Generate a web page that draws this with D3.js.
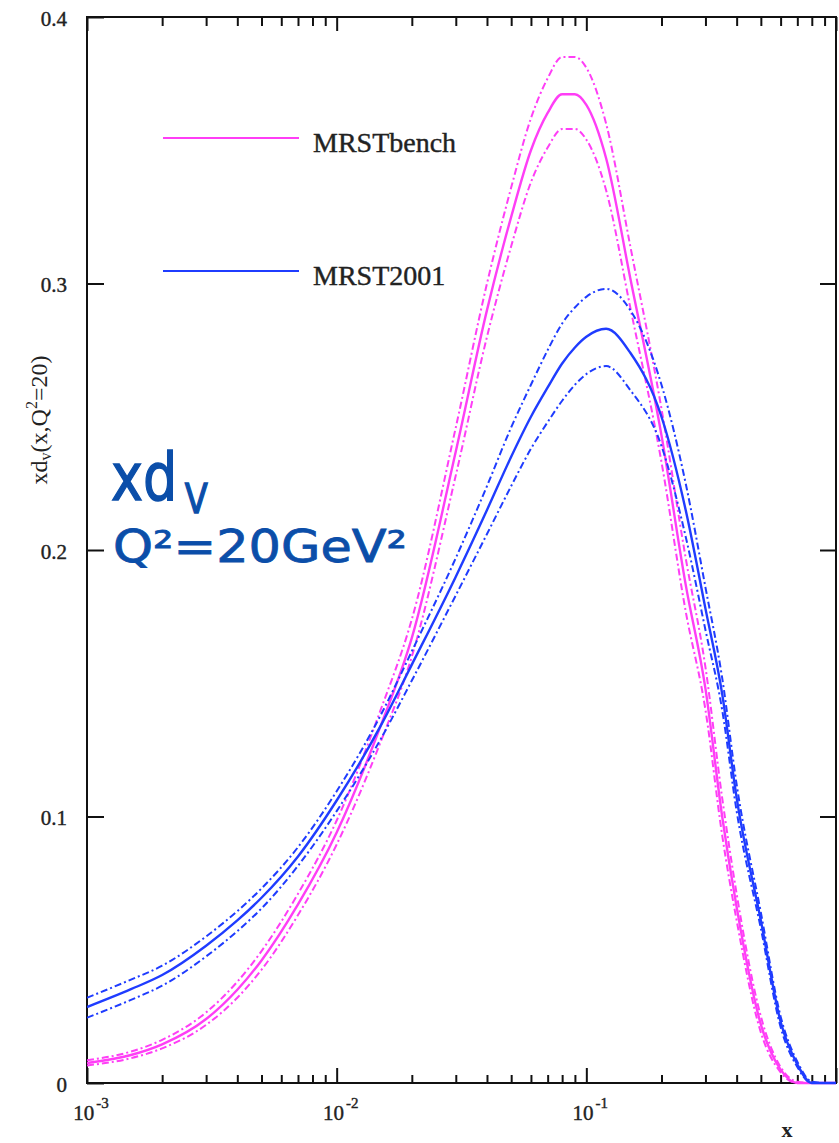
<!DOCTYPE html>
<html>
<head>
<meta charset="utf-8">
<script src="https://cdn.jsdelivr.net/npm/d3@7/dist/d3.min.js"></script>
<style>
  html, body { margin: 0; padding: 0; background: #fff; }
  svg { display: block; }
</style>
</head>
<body>
<svg id="chart" width="839" height="1143"></svg>
<script>
// ---- data ----
const xValues = [0.001, 0.0015, 0.002, 0.003, 0.004, 0.005, 0.007, 0.01, 0.015, 0.02,
  0.03, 0.04, 0.05, 0.06, 0.07, 0.08, 0.09, 0.1, 0.12, 0.15,
  0.2, 0.25, 0.3, 0.35, 0.4, 0.5, 0.6, 0.7, 0.8, 0.9, 1.0];

const benchCentral = [0.0075, 0.0105, 0.0145, 0.024, 0.035, 0.046, 0.067, 0.094, 0.134, 0.167,
  0.237, 0.290, 0.325, 0.350, 0.364, 0.371, 0.371, 0.367, 0.347, 0.302,
  0.243, 0.187, 0.148, 0.100, 0.066, 0.022, 0.005, 0.0, 0, 0, 0];
const benchUpper = [0.0085, 0.0118, 0.0162, 0.0265, 0.038, 0.0495, 0.071, 0.0985, 0.140, 0.174,
  0.246, 0.300, 0.336, 0.362, 0.377, 0.385, 0.385, 0.381, 0.360, 0.314,
  0.253, 0.197, 0.156, 0.107, 0.071, 0.025, 0.006, 0.0005, 0, 0, 0];
const benchLower = [0.0066, 0.0093, 0.013, 0.0218, 0.032, 0.0425, 0.063, 0.0895, 0.128, 0.160,
  0.228, 0.280, 0.314, 0.338, 0.351, 0.358, 0.358, 0.354, 0.335, 0.291,
  0.233, 0.177, 0.140, 0.093, 0.061, 0.019, 0.004, 0, 0, 0, 0];

const mrstCentral = [0.0285, 0.0352, 0.0405, 0.0515, 0.061, 0.0695, 0.085, 0.106, 0.134, 0.157,
  0.190, 0.215, 0.235, 0.250, 0.261, 0.270, 0.276, 0.280, 0.283, 0.274,
  0.250, 0.215, 0.178, 0.146, 0.107, 0.061, 0.023, 0.007, 0, 0, 0];
const mrstUpper = [0.032, 0.0388, 0.044, 0.055, 0.0645, 0.073, 0.0885, 0.1095, 0.138, 0.162,
  0.197, 0.224, 0.246, 0.262, 0.275, 0.285, 0.291, 0.295, 0.298, 0.290,
  0.262, 0.225, 0.186, 0.152, 0.112, 0.064, 0.025, 0.008, 0.0005, 0, 0];
const mrstLower = [0.0245, 0.0312, 0.0365, 0.0475, 0.057, 0.0655, 0.0815, 0.102, 0.129, 0.151,
  0.183, 0.206, 0.224, 0.238, 0.248, 0.256, 0.262, 0.266, 0.269, 0.260,
  0.239, 0.205, 0.170, 0.140, 0.102, 0.058, 0.021, 0.006, 0, 0, 0];

const seriesNames = ["MRSTbench", "MRST2001"];
const yTickValues = [0, 0.1, 0.2, 0.3, 0.4];
const xDecades = [0.001, 0.01, 0.1];
const xDecadeExponents = ["-3", "-2", "-1"];
const xAxisTitle = "x";

(function () {
const pL = 87, pR = 836, pT = 17, pB = 1083;
const MAG = "#ff3ef6", BLU = "#1f3cff";
const serif = "'Liberation Serif', 'Times New Roman', serif";

const svg = d3.select("#chart");
const x = d3.scaleLog().domain([1e-3, 1]).range([pL, pR]);
const y = d3.scaleLinear().domain([0, 0.4]).range([pB, pT]);

const minorX = [];
[0.001, 0.01, 0.1].forEach(d => { for (let k = 2; k <= 9; k++) minorX.push(d * k); });
const majorX = [0.001, 0.01, 0.1, 1];

function styleAxis(g) {
  g.select(".domain").remove();
  g.selectAll(".tick line").attr("stroke", "#111").attr("stroke-width", 2);
}

svg.append("g").attr("transform", `translate(0,${pB})`)
  .call(d3.axisBottom(x).tickValues(majorX).tickSize(-15).tickFormat(""))
  .call(styleAxis);
svg.append("g").attr("transform", `translate(0,${pB})`)
  .call(d3.axisBottom(x).tickValues(minorX).tickSize(-8).tickFormat(""))
  .call(styleAxis);
svg.append("g").attr("transform", `translate(0,${pT})`)
  .call(d3.axisTop(x).tickValues(majorX).tickSize(-14).tickFormat(""))
  .call(styleAxis);
svg.append("g").attr("transform", `translate(0,${pT})`)
  .call(d3.axisTop(x).tickValues(minorX).tickSize(-9).tickFormat(""))
  .call(styleAxis);
const gl = svg.append("g").attr("transform", `translate(${pL},0)`)
  .call(d3.axisLeft(y).tickValues(yTickValues).tickSize(-17).tickPadding(20)
    .tickFormat(d => d === 0 ? "0" : String(d)))
  .call(styleAxis);
gl.selectAll(".tick text")
  .attr("font-family", serif).attr("font-size", 21).attr("fill", "#222")
  .attr("stroke", "#222").attr("stroke-width", 0.4)
  .attr("dy", "0.40em");
svg.append("g").attr("transform", `translate(${pR},0)`)
  .call(d3.axisRight(y).tickValues([0.1, 0.2, 0.3]).tickSize(-16).tickFormat(""))
  .call(styleAxis);

svg.append("rect").attr("x", pL).attr("y", pT)
  .attr("width", pR - pL).attr("height", pB - pT)
  .attr("fill", "none").attr("stroke", "#111").attr("stroke-width", 2);

xDecades.forEach((d, i) => {
  const t = svg.append("text")
    .attr("x", x(d) + 4).attr("y", 1120)
    .attr("text-anchor", "middle")
    .attr("font-family", serif).attr("font-size", 21).attr("fill", "#222")
    .attr("stroke", "#222").attr("stroke-width", 0.4);
  t.append("tspan").text("10");
  t.append("tspan").attr("dx", 2).attr("dy", -12).attr("font-size", 15).text(xDecadeExponents[i]);
});
svg.append("text").attr("x", 787).attr("y", 1137).attr("text-anchor", "middle")
  .attr("font-family", serif).attr("font-size", 22).attr("font-weight", "bold")
  .attr("fill", "#222").text(xAxisTitle);

const yt = svg.append("text")
  .attr("transform", "translate(47,420) rotate(-90)")
  .attr("text-anchor", "middle")
  .attr("font-family", serif).attr("font-size", 24).attr("fill", "#222");
yt.append("tspan").text("xd");
yt.append("tspan").attr("dy", 4).attr("font-size", 16).text("v");
yt.append("tspan").attr("dy", -4).text("(x,Q");
yt.append("tspan").attr("dy", -10).attr("font-size", 16).text("2");
yt.append("tspan").attr("dy", 10).text("=20)");

const line = d3.line()
  .x(d => x(d[0])).y(d => y(d[1]))
  .curve(d3.curveMonotoneX);
const pts = arr => xValues.map((xv, i) => [xv, arr[i]]);

svg.append("clipPath").attr("id", "plotclip").append("rect")
  .attr("x", pL).attr("y", pT - 2).attr("width", pR - pL + 1).attr("height", pB - pT + 4);
const plot = svg.append("g").attr("clip-path", "url(#plotclip)");

const dashDot = "7,3,2,3";
function drawSet(color, c, u, l) {
  plot.append("path").attr("d", line(pts(u))).attr("fill", "none")
    .attr("stroke", color).attr("stroke-width", 2).attr("stroke-dasharray", dashDot);
  plot.append("path").attr("d", line(pts(l))).attr("fill", "none")
    .attr("stroke", color).attr("stroke-width", 2).attr("stroke-dasharray", dashDot);
  plot.append("path").attr("d", line(pts(c))).attr("fill", "none")
    .attr("stroke", color).attr("stroke-width", 2.4);
}
drawSet(MAG, benchCentral, benchUpper, benchLower);
drawSet(BLU, mrstCentral, mrstUpper, mrstLower);

const legend = [{ name: seriesNames[0], color: MAG, ly: 138 }, { name: seriesNames[1], color: BLU, ly: 271 }];
legend.forEach(e => {
  svg.append("line").attr("x1", 163).attr("x2", 299).attr("y1", e.ly).attr("y2", e.ly)
    .attr("stroke", e.color).attr("stroke-width", 2.2);
  svg.append("text").attr("x", 313).attr("y", e.ly + 14)
    .attr("font-family", serif).attr("font-size", 28).attr("fill", "#222")
    .attr("stroke", "#222").attr("stroke-width", 0.4).text(e.name);
});

const ANN = "#0b4ea9";
const a1 = svg.append("text").attr("transform", "translate(111,500) scale(0.82,1)")
  .attr("font-family", "'DejaVu Sans', sans-serif").attr("font-size", 66)
  .attr("fill", ANN).attr("stroke", ANN).attr("stroke-width", 1.4);
a1.append("tspan").text("xd");
a1.append("tspan").attr("dx", 9).attr("dy", 13).attr("font-size", 41).text("V");
svg.append("text").attr("x", 113).attr("y", 562)
  .attr("font-family", "'DejaVu Sans', sans-serif").attr("font-size", 44)
  .attr("textLength", 294).attr("lengthAdjust", "spacingAndGlyphs")
  .attr("fill", ANN).attr("stroke", ANN).attr("stroke-width", 0.8).text("Q²=20GeV²");
})();
</script>
</body>
</html>
